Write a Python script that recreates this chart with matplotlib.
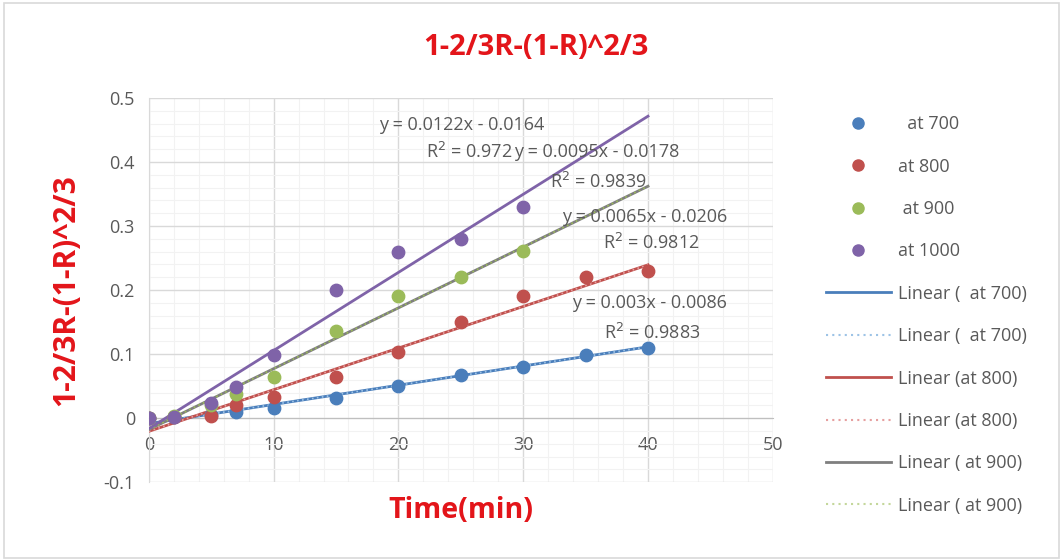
import matplotlib.pyplot as plt
import numpy as np
from matplotlib.patches import Rectangle
from matplotlib.lines import Line2D

plt.rcParams['font.family'] = ['Open Sans', 'DejaVu Sans']

# time (min)
t_700 = [0, 2, 5, 7, 10, 15, 20, 25, 30, 35, 40]
y_700 = [0, 0.002, 0.005, 0.01, 0.016, 0.031, 0.05, 0.068, 0.08, 0.098, 0.11]
t_800 = [0, 2, 5, 7, 10, 15, 20, 25, 30, 35, 40]
y_800 = [0, 0.002, 0.004, 0.02, 0.033, 0.065, 0.104, 0.15, 0.19, 0.22, 0.23]
t_900 = [0, 2, 5, 7, 10, 15, 20, 25, 30]
y_900 = [0, 0.003, 0.02, 0.037, 0.064, 0.136, 0.19, 0.221, 0.261]
t_1000 = [0, 2, 5, 7, 10, 15, 20, 25, 30]
y_1000 = [0, 0.002, 0.023, 0.048, 0.098, 0.2, 0.26, 0.28, 0.33]

# trendline coefficients (slope, intercept, R^2) as printed on the chart
fit_700 = (0.003, -0.0086, 0.9883)
fit_800 = (0.0065, -0.0206, 0.9812)
fit_900 = (0.0095, -0.0178, 0.9839)
fit_1000 = (0.0122, -0.0164, 0.972)
fit_range = [0, 40]

c_blue = '#4a7ebb'
c_red = '#c0504d'
c_green = '#9bbb59'
c_purple = '#7f63a8'
c_gray = '#7f7f7f'
c_text = '#595959'
c_title = '#e3151a'

fig = plt.figure(figsize=(10.63, 5.6), dpi=100)
ax = fig.add_axes([0.140, 0.139, 0.587, 0.686])

# chart border
fig.patches.append(Rectangle((0.004, 0.004), 0.992, 0.99, transform=fig.transFigure,
                             fill=False, edgecolor='#d9d9d9', lw=1.2))


def trend(fit):
    xs = np.array(fit_range, dtype=float)
    return xs, fit[0] * xs + fit[1]


def eq(fit):
    return 'y = %gx - %g' % (fit[0], abs(fit[1]))


def r2(fit):
    return 'R$^2$ = %g' % fit[2]


# trendlines
xs, ys = trend(fit_700)
ax.plot(xs, ys, color=c_blue, lw=2, zorder=3)
ax.plot(xs, ys, color='#9dc3e6', lw=1.2, ls=(0, (1, 2)), zorder=3)
xs, ys = trend(fit_800)
ax.plot(xs, ys, color=c_red, lw=2, zorder=3)
ax.plot(xs, ys, color='#e6a0a0', lw=1.2, ls=(0, (1, 2)), zorder=3)
xs, ys = trend(fit_900)
ax.plot(xs, ys, color=c_gray, lw=2, zorder=3)
ax.plot(xs, ys, color=c_green, lw=1.2, ls=(0, (1, 2)), zorder=3)
xs, ys = trend(fit_1000)
ax.plot(xs, ys, color=c_purple, lw=2, zorder=3)

# points
ms = 80
ax.scatter(t_700, y_700, s=ms, color=c_blue, zorder=4)
ax.scatter(t_800, y_800, s=ms, color=c_red, zorder=4)
ax.scatter(t_900, y_900, s=ms, color=c_green, zorder=4)
ax.scatter(t_1000, y_1000, s=ms, color=c_purple, zorder=4)

# equation labels
fs_eq = 13
kw = dict(va='center', fontsize=fs_eq, color=c_text, zorder=5)
ax.text(25.1, 0.458, eq(fit_1000), ha='center', **kw)
ax.text(29.1, 0.416, r2(fit_1000), ha='right', **kw)
ax.text(29.3, 0.416, eq(fit_900), ha='left', **kw)
ax.text(36.0, 0.369, r2(fit_900), ha='center', **kw)
ax.text(39.7, 0.314, eq(fit_800), ha='center', **kw)
ax.text(40.3, 0.273, r2(fit_800), ha='center', **kw)
ax.text(40.1, 0.180, eq(fit_700), ha='center', **kw)
ax.text(40.3, 0.133, r2(fit_700), ha='center', **kw)

# axes
ax.set_xlim(0, 50)
ax.set_ylim(-0.1, 0.5)
ax.set_xticks(np.arange(0, 51, 10))
ax.set_yticks(np.arange(-0.1, 0.51, 0.1))
ax.set_xticks(np.arange(0, 51, 2), minor=True)
ax.set_yticks(np.arange(-0.1, 0.51, 0.02), minor=True)
ax.set_yticklabels(['%g' % round(v, 1) for v in np.arange(-0.1, 0.51, 0.1)])
ax.grid(which='major', color='#d9d9d9', lw=1)
ax.grid(which='minor', color='#f2f2f2', lw=0.8)
ax.set_axisbelow(True)
for s in ['top', 'right']:
    ax.spines[s].set_visible(False)
ax.spines['bottom'].set_position(('data', 0))
ax.spines['bottom'].set_color('#bfbfbf')
ax.spines['left'].set_color('#d9d9d9')
ax.tick_params(which='both', length=0, labelsize=13, labelcolor=c_text)
ax.tick_params(axis='x', pad=13)
ax.tick_params(axis='y', pad=10)

fig.text(0.504, 0.916, '1-2/3R-(1-R)^2/3', ha='center', va='center', fontsize=21,
         fontweight='bold', color=c_title)
fig.text(0.434, 0.089, 'Time(min)', ha='center', va='center', fontsize=20.5,
         fontweight='bold', color=c_title)
fig.text(0.062, 0.482, '1-2/3R-(1-R)^2/3', ha='center', va='center', fontsize=21.5,
         fontweight='bold', color=c_title, rotation=90)

# legend
handles = [
    Line2D([], [], ls='', marker='o', ms=8, color=c_blue),
    Line2D([], [], ls='', marker='o', ms=8, color=c_red),
    Line2D([], [], ls='', marker='o', ms=8, color=c_green),
    Line2D([], [], ls='', marker='o', ms=8, color=c_purple),
    Line2D([], [], color=c_blue, lw=2),
    Line2D([], [], color='#9dc3e6', lw=1.5, ls=(0, (1, 2))),
    Line2D([], [], color=c_red, lw=2),
    Line2D([], [], color='#e6a0a0', lw=1.5, ls=(0, (1, 2))),
    Line2D([], [], color=c_gray, lw=2),
    Line2D([], [], color='#c4d79b', lw=1.5, ls=(0, (1, 2))),
]
labels = ['  at 700', 'at 800', ' at 900', 'at 1000',
          'Linear (  at 700)', 'Linear (  at 700)', 'Linear (at 800)', 'Linear (at 800)',
          'Linear ( at 900)', 'Linear ( at 900)']
leg = fig.legend(handles, labels, loc='upper left', bbox_to_anchor=(0.770, 0.807),
                 frameon=False, fontsize=13, handlelength=3.6, handletextpad=0.4,
                 labelspacing=1.35, borderaxespad=0)
for txt in leg.get_texts():
    txt.set_color(c_text)

fig.savefig('out.png', dpi=100)
